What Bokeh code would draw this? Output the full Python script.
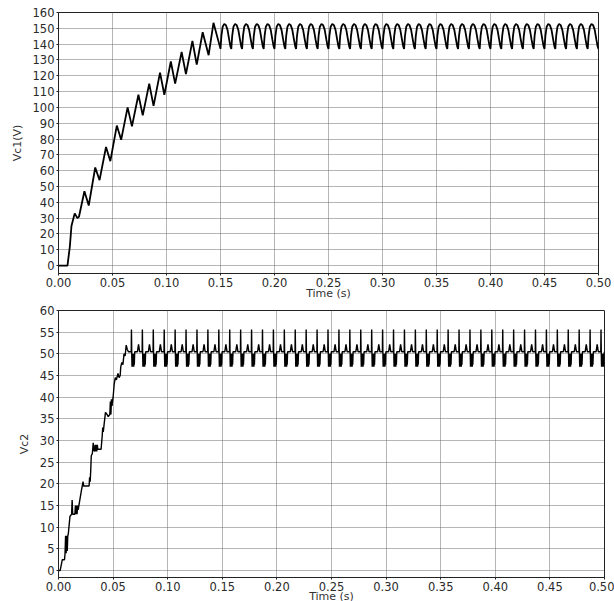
from bokeh.plotting import figure
from bokeh.layouts import column
from bokeh.models import Range1d, FixedTicker, PrintfTickFormatter
from bokeh.embed import file_html
from bokeh.resources import INLINE

# ---------------- data ----------------
X_TICKS = [0.0, 0.05, 0.10, 0.15, 0.20, 0.25, 0.30, 0.35, 0.40, 0.45, 0.50]
V1_TICKS = list(range(0, 161, 10))
V2_TICKS = list(range(0, 61, 5))

# Vc1 start-up (time s, volts)
V1_START_T = [0.0, 0.0083, 0.0105, 0.012, 0.015, 0.0175, 0.019, 0.024, 0.028,
              0.034, 0.038, 0.044, 0.048, 0.054, 0.058, 0.064, 0.068, 0.074,
              0.078, 0.084, 0.088, 0.094, 0.098, 0.104, 0.108, 0.114, 0.118,
              0.124, 0.128, 0.1335, 0.139, 0.1435]
V1_START_V = [0, 0, 12, 25, 33, 30, 31, 47, 38,
              62, 54, 75, 66, 88.5, 79.5, 100, 88, 108,
              95, 115, 101, 122, 108, 129, 115, 135, 121,
              142, 127, 147.5, 133, 153.5]
# Vc1 steady-state ripple: one cycle (offset in s from the cycle's valley, volts)
V1_CYCLE_DT = [0.0, 0.0008, 0.002, 0.0035, 0.005, 0.0065, 0.008, 0.0092]
V1_CYCLE_V = [137, 145, 151, 152.8, 152, 149, 143, 138.5]
V1_STEADY_START = 0.150
RIPPLE_PERIOD = 0.010

# Vc2 start-up (time s, volts)
V2_START_T = [0.0, 0.0015, 0.0035, 0.0055, 0.006, 0.0065, 0.007, 0.0075, 0.008,
              0.0085, 0.009, 0.0105, 0.012, 0.0125, 0.013, 0.015, 0.0155, 0.016,
              0.0165, 0.017, 0.0175, 0.018, 0.021, 0.0225, 0.023, 0.028, 0.0285,
              0.029, 0.0295, 0.030, 0.031, 0.0318, 0.0322, 0.033, 0.0335, 0.034,
              0.0345, 0.035, 0.0355, 0.036, 0.039, 0.040, 0.0405, 0.041, 0.043,
              0.0445, 0.0455, 0.047, 0.0475, 0.048, 0.0485, 0.049, 0.050, 0.051,
              0.052, 0.053, 0.0545, 0.0555, 0.0565, 0.057, 0.058, 0.059, 0.060,
              0.061, 0.062, 0.063, 0.064, 0.0665]
V2_START_V = [0, 0, 2.5, 2.5, 4, 8, 4, 8, 4.5,
              8, 8.5, 12.5, 13, 16.3, 13, 13, 15, 13,
              15, 13, 15, 14, 18.5, 20.5, 19.5, 19.5, 21.5,
              20.5, 23, 26.5, 27, 29.5, 28, 27.5, 29, 27.5,
              29, 27.5, 29, 28, 28, 31, 33, 32, 36.5,
              36, 35.5, 36, 39, 36, 39.5, 38, 40, 43,
              44.5, 44, 45.5, 44.5, 45, 47, 48, 47.5, 50,
              49.5, 52, 51, 50.5, 50.5]
# Vc2 steady-state: one cycle (offset in s from the spike, volts)
V2_CYCLE_DT = [-0.0002, 0.0, 0.0003, 0.0005, 0.0007, 0.0009, 0.0011, 0.0013,
               0.0015, 0.0017, 0.0019, 0.0021, 0.0023, 0.0026, 0.003, 0.0055,
               0.0065, 0.0075, 0.0097]
V2_CYCLE_V = [50.5, 55.6, 49.5, 47, 50, 47, 50, 47,
              50, 47, 50, 47, 50, 47.5, 50.5, 50.5,
              52.2, 50.5, 50.5]
V2_FIRST_SPIKE = 0.0668
T_END = 0.5

# ---------------- assemble the repeated steady cycles ----------------
def build(start_t, start_v, first, dts, vs):
    t, v = list(start_t), list(start_v)
    k = 0
    while True:
        base = first + k * RIPPLE_PERIOD
        if base + dts[0] > T_END:
            break
        for dt, val in zip(dts, vs):
            if base + dt <= T_END:
                t.append(base + dt)
                v.append(val)
        k += 1
    return t, v

t1, v1 = build(V1_START_T, V1_START_V, V1_STEADY_START, V1_CYCLE_DT, V1_CYCLE_V)
t2, v2 = build(V2_START_T, V2_START_V, V2_FIRST_SPIKE, V2_CYCLE_DT, V2_CYCLE_V)

FONT = "DejaVu Sans"


def make(fw, fh, ml, mr, mt, mb, yr, yticks, ylabel, xstand):
    p = figure(frame_width=fw, frame_height=fh, output_backend="svg",
               toolbar_location=None, x_range=Range1d(0, 0.5), y_range=yr,
               min_border_left=ml, min_border_right=mr, min_border_top=mt,
               min_border_bottom=mb, background_fill_color="white",
               border_fill_color="white")
    p.outline_line_color = "#222222"
    p.outline_line_width = 1
    p.xaxis.ticker = FixedTicker(ticks=X_TICKS)
    p.xaxis.formatter = PrintfTickFormatter(format="%.2f")
    p.yaxis.ticker = FixedTicker(ticks=yticks)
    p.xaxis.axis_label = "Time (s)"
    p.yaxis.axis_label = ylabel
    for ax in (p.xaxis[0], p.yaxis[0]):
        ax.major_label_text_font = FONT
        ax.major_label_text_font_size = "11.5px"
        ax.major_label_text_color = "#2a2a2a"
        ax.axis_label_text_font = FONT
        ax.axis_label_text_font_size = "11px"
        ax.axis_label_text_font_style = "normal"
        ax.axis_label_text_color = "#333333"
        ax.axis_line_color = "#222222"
        ax.major_tick_line_color = "#222222"
        ax.minor_tick_line_color = None
        ax.major_tick_in = 0
        ax.major_tick_out = 2
        ax.major_label_standoff = 2
    p.xaxis.axis_label_standoff = xstand
    p.yaxis.axis_label_standoff = 6
    for g in (p.xgrid[0], p.ygrid[0]):
        g.grid_line_color = "#6a6a6a"
        g.grid_line_dash = "1 1"
        g.grid_line_width = 1
    p.xgrid.ticker = FixedTicker(ticks=X_TICKS)
    p.ygrid.ticker = FixedTicker(ticks=yticks)
    return p


p1 = make(540, 261, 58, 16, 12, 27, Range1d(-5, 160), V1_TICKS, "Vc1(V)", -3)
p1.line(t1, v1, line_color="black", line_width=1.8)

p2 = make(546, 267, 57, 11, 8, 26, Range1d(-1.6, 60), V2_TICKS, "Vc2", -4)
p2.line(t2, v2, line_color="black", line_width=1.4)

layout = column(p1, p2, spacing=0)
open("out.html", "w").write(file_html(layout, INLINE))
